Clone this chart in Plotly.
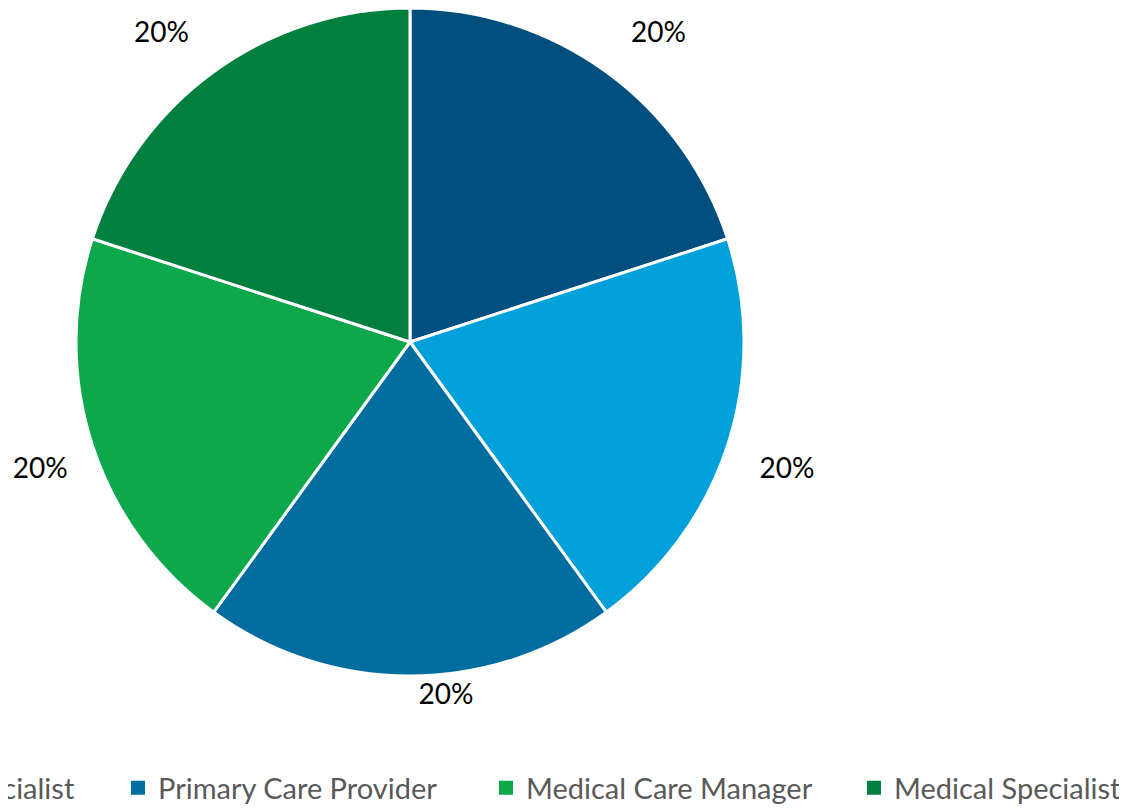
import plotly.graph_objects as go

labels = ["Patient", "Clinical Care Specialist", "Primary Care Provider",
          "Medical Care Manager", "Medical Specialist"]
values = [20, 20, 20, 20, 20]
colors = ["#004F7E", "#00A0DA", "#006DA0", "#0DA84B", "#007F3E"]

NB = "\u00a0"
P = "%{percent:.0%}"
# per-slice label templates (padding only nudges the outside labels outward)
label_templates = [
    NB + P + "<br>" + NB,
    NB + "<br>" + NB * 2 + P,
    P,
    NB + "<br>" + P + NB,
    P + NB + "<br>" + NB,
]

W, H = 1119, 800
cx, cy, r = 402, 334, 334

fig = go.Figure()
fig.add_trace(go.Pie(
    labels=labels, values=values, sort=False, direction="clockwise", rotation=0,
    marker=dict(colors=colors, line=dict(color="white", width=3)),
    texttemplate=label_templates, textposition="outside",
    textfont=dict(family="Lato", size=28, color="black"),
    domain=dict(x=[(cx - r) / W, (cx + r) / W], y=[1 - (cy + r) / H, 1 - (cy - r) / H]),
    showlegend=False, hoverinfo="label+percent",
))

# legend entries (one legend per entry, Excel-style equal spacing)
first_x = -626
spacing = 368
for i, (lab, col) in enumerate(zip(labels, colors)):
    key = "legend" if i == 0 else f"legend{i+1}"
    fig.add_trace(go.Scatter(
        x=[None], y=[None], mode="markers", name=lab,
        marker=dict(symbol="square", size=14, color=col),
        legend=key, showlegend=True, hoverinfo="skip",
    ))
    fig.layout[key] = dict(
        orientation="h", x=(first_x + i * spacing) / W, xanchor="left",
        y=0.057, yanchor="top", bgcolor="rgba(0,0,0,0)",
        font=dict(family="Lato", size=29, color="#595959"),
    )

fig.update_layout(
    width=W, height=H,
    margin=dict(l=0, r=0, t=0, b=0, autoexpand=False),
    paper_bgcolor="white", plot_bgcolor="white",
    xaxis=dict(visible=False), yaxis=dict(visible=False),
)
fig.write_html("out.html")
